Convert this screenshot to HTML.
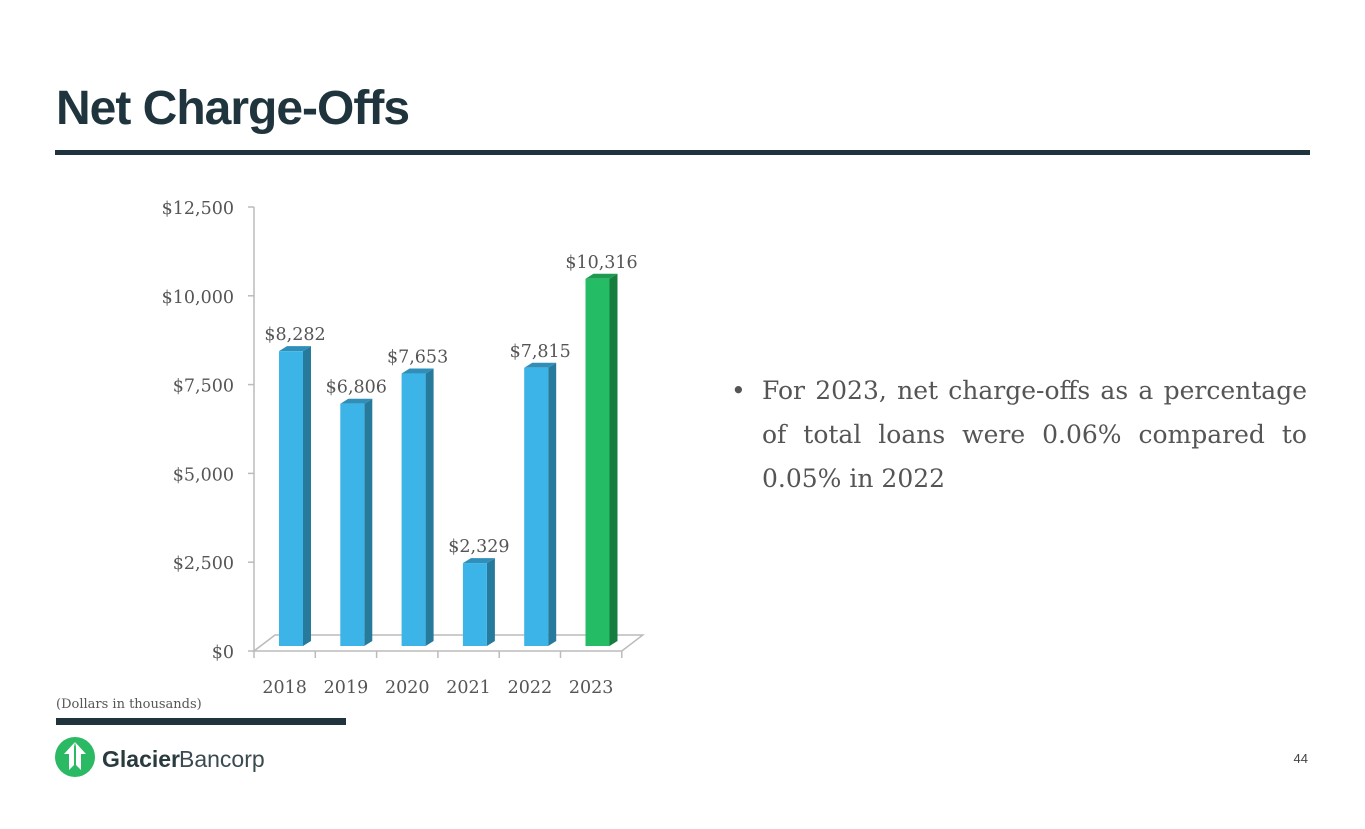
<!DOCTYPE html>
<html><head><meta charset="utf-8"><style>
body{margin:0;width:1365px;height:829px;background:#fff;position:relative;overflow:hidden;font-family:"Liberation Sans",sans-serif}
#title{position:absolute;left:56px;top:81px;font-size:48px;font-weight:bold;color:#1f343d;letter-spacing:-1px;margin:0}
#rule{position:absolute;left:55px;top:150px;width:1255px;height:5px;background:#1f343d}
#bullet{position:absolute;left:731px;top:369px;width:576px;font-family:"DejaVu Serif","Liberation Serif",serif;font-size:25px;line-height:44px;color:#555;text-align:justify}
#bullet span.dot{position:absolute;left:0}
#bullet div{margin-left:31px}
#note{position:absolute;left:56px;top:697px;font-family:"DejaVu Serif",serif;font-size:13px;color:#555}
#rule2{position:absolute;left:56px;top:718px;width:290px;height:7px;background:#1f343d}
#logo{position:absolute;left:55px;top:737px}
#page{position:absolute;right:57px;top:751px;font-size:13px;color:#444}
</style></head><body>
<h1 id="title">Net Charge-Offs</h1>
<div id="rule"></div>
<svg id="chart" width="1365" height="829" style="position:absolute;left:0;top:0"></svg>
<div id="bullet"><span class="dot">•</span><div>For 2023, net charge-offs as a percentage of total loans were 0.06% compared to 0.05% in 2022</div></div>
<div id="note">(Dollars in thousands)</div>
<div id="rule2"></div>
<svg id="logo" width="220" height="42">
<circle cx="20" cy="20" r="20" fill="#2bb964"/>
<path d="M20 5 L31 17 L26 17 L26 33 L21 28 L21 10 Z M20 5 L9 17 L14 17 L14 33 L19 28 L19 10 Z" fill="#fff"/>
<text x="47" y="30" font-family="Liberation Sans" font-weight="bold" font-size="23" fill="#2a3b40">Glacier</text>
<text x="124" y="30" font-family="Liberation Sans" font-size="23" fill="#3a4a50">Bancorp</text>
</svg>
<div id="page">44</div>
<script>
const categories=["2018","2019","2020","2021","2022","2023"];
const values=[8282,6806,7653,2329,7815,10316];
const labels=["$8,282","$6,806","$7,653","$2,329","$7,815","$10,316"];
const ticks=[0,2500,5000,7500,10000,12500];
const tickLabels=["$0","$2,500","$5,000","$7,500","$10,000","$12,500"];
const NS="http://www.w3.org/2000/svg";
const svg=document.getElementById('chart');
const x0=254,slot=61.3,axY0=651,axY1=207,maxV=12500;
const barBase=646,depthX=8,depthY=5;
function yAxis(v){return axY0-(axY0-axY1)*v/maxV;}
function yBar(v){return barBase-(barBase-201)*v/maxV;}
function xSlot(i){return x0+slot*i;}
function mk(t,a){const e=document.createElementNS(NS,t);for(const k in a)e.setAttribute(k,a[k]);svg.appendChild(e);return e;}
let ax=mk('line',{x1:x0,y1:axY1,x2:x0,y2:axY0,stroke:'#bbb','stroke-width':1.5});

ticks.forEach((t,i)=>{
 let l=mk('line',{x1:x0-6,y1:yAxis(t),x2:x0,y2:yAxis(t),stroke:'#bbb','stroke-width':1.5});
 
 let tx=mk('text',{x:x0-20,y:yAxis(t)+7,'text-anchor':'end','font-family':'DejaVu Serif, serif','font-size':'17.5',fill:'#555'});
 tx.textContent=tickLabels[i];
 
});
const xEnd=xSlot(categories.length);
let fl=mk('path',{d:`M${x0} ${axY0} L${x0+21} ${axY0-16} L${xEnd+21} ${axY0-16} L${xEnd} ${axY0} Z`,fill:'none',stroke:'#bbb','stroke-width':1.5});

for(let i=0;i<=categories.length;i++){
 let l=mk('line',{x1:xSlot(i),y1:axY0,x2:xSlot(i),y2:axY0+7,stroke:'#bbb','stroke-width':1.5});
 
}
categories.forEach((c,i)=>{
 const bx=xSlot(i)+25,w=24,top=yBar(values[i]);
 const green=i===categories.length-1;
 const f=green?'#24bd66':'#3cb4e8',s=green?'#177d3f':'#267a9c',tp=green?'#1c9a4f':'#2f8fb9';
 let side=mk('path',{d:`M${bx+w} ${top} L${bx+w+depthX} ${top-depthY} L${bx+w+depthX} ${barBase-depthY} L${bx+w} ${barBase} Z`,fill:s});
 
 let tp2=mk('path',{d:`M${bx} ${top} L${bx+depthX} ${top-depthY} L${bx+w+depthX} ${top-depthY} L${bx+w} ${top} Z`,fill:tp});
 
 let r=mk('rect',{x:bx,y:top,width:w,height:barBase-top,fill:f});
 
 let lb=mk('text',{x:bx+w/2+4,y:top-11,'text-anchor':'middle','font-family':'DejaVu Serif, serif','font-size':'17.5',fill:'#555'});
 lb.textContent=labels[i];
 
 let xl=mk('text',{x:xSlot(i)+slot/2,y:693,'text-anchor':'middle','font-family':'DejaVu Serif, serif','font-size':'17.5',fill:'#555'});
 xl.textContent=c;
 
});
</script>
</body></html>
